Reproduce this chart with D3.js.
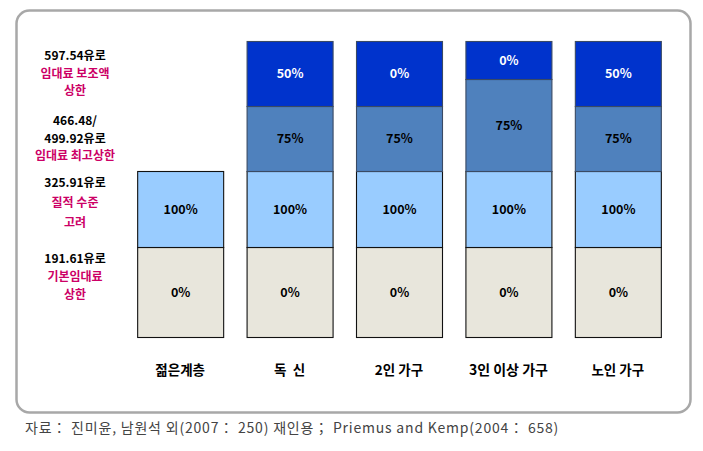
<!DOCTYPE html>
<html>
<head>
<meta charset="utf-8">
<script src="https://cdn.jsdelivr.net/npm/d3@7"></script>
<style>
  html, body { margin: 0; padding: 0; background: #fff; }
  svg { display: block; font-family: "Noto Sans CJK KR", "Noto Sans", sans-serif; }
</style>
</head>
<body>
<svg id="chart" width="703" height="451"></svg>
<script>
// ---------- data ----------
const categories = ["젊은계층", "독  신", "2인 가구", "3인 이상 가구", "노인 가구"];
const rentLevels = [0, 191.61, 325.91, 466.48, 499.92, 597.54];

// segment bounds (euro) and support rate for each category
const baseTop      = [191.61, 191.61, 191.61, 191.61, 191.61];
const baseRate     = ["0%", "0%", "0%", "0%", "0%"];
const qualityTop   = [325.91, 325.91, 325.91, 325.91, 325.91];
const qualityRate  = ["100%", "100%", "100%", "100%", "100%"];
const ceilingTop   = [null, 466.48, 466.48, 499.92, 466.48];
const ceilingRate  = [null, "75%", "75%", "75%", "75%"];
const subsidyTop   = [null, 597.54, 597.54, 597.54, 597.54];
const subsidyRate  = [null, "50%", "0%", "0%", "50%"];

const levelLabelNumbers = [["597.54유로"], ["466.48/", "499.92유로"], ["325.91유로"], ["191.61유로"]];
const levelLabelTexts   = [["임대료 보조액", "상한"], ["임대료 최고상한"], ["질적 수준", "고려"], ["기본임대료", "상한"]];

const sourceNote = "자료： 진미윤, 남원석 외(2007： 250) 재인용； Priemus and Kemp(2004： 658)";

// ---------- layout ----------
const svg = d3.select("#chart");
const colors = { base: "#e8e6dc", quality: "#99ccff", ceiling: "#4f81bd", subsidy: "#0033cc" };

// frame
svg.append("rect")
  .attr("x", 16.5).attr("y", 10.5).attr("width", 674).attr("height", 402)
  .attr("rx", 13).attr("ry", 13)
  .attr("fill", "none").attr("stroke", "#a8a8a8").attr("stroke-width", 2.5);

const x = d3.scaleBand().domain(categories).range([126, 672]).paddingInner(0.21).paddingOuter(0.1);
const y = d3.scaleLinear().domain(rentLevels).range([337, 247, 171, 106, 79, 41]);

// build segments
const segments = [];
categories.forEach((c, i) => {
  segments.push({ cat: c, lo: 0, hi: baseTop[i], rate: baseRate[i], key: "base" });
  segments.push({ cat: c, lo: baseTop[i], hi: qualityTop[i], rate: qualityRate[i], key: "quality" });
  if (ceilingTop[i] != null)
    segments.push({ cat: c, lo: qualityTop[i], hi: ceilingTop[i], rate: ceilingRate[i], key: "ceiling" });
  if (subsidyTop[i] != null)
    segments.push({ cat: c, lo: ceilingTop[i], hi: subsidyTop[i], rate: subsidyRate[i], key: "subsidy" });
});

const bw = 86;
const g = svg.append("g");
g.selectAll("rect.seg").data(segments).join("rect")
  .attr("class", "seg")
  .attr("x", d => x(d.cat) + x.bandwidth() / 2 - bw / 2 + 0.5)
  .attr("y", d => y(d.hi) + 0.5)
  .attr("width", bw)
  .attr("height", d => y(d.lo) - y(d.hi))
  .attr("fill", d => colors[d.key])
  .attr("stroke", d => (d.key === "ceiling" || d.key === "subsidy") ? "#3a4a63" : "#111")
  .attr("stroke-width", 1.1);

g.selectAll("text.rate").data(segments).join("text")
  .attr("class", "rate")
  .attr("x", d => x(d.cat) + x.bandwidth() / 2 + 0.5)
  .attr("y", d => (y(d.lo) + y(d.hi)) / 2)
  .attr("dy", "0.36em")
  .attr("text-anchor", "middle")
  .attr("font-size", 12.5)
  .attr("font-weight", "bold")
  .attr("fill", d => d.key === "subsidy" ? "#ffffff" : "#000")
  .text(d => d.rate);

// category labels
svg.selectAll("text.cat").data(categories).join("text")
  .attr("class", "cat")
  .attr("x", d => x(d) + x.bandwidth() / 2)
  .attr("y", 375)
  .attr("text-anchor", "middle")
  .attr("font-size", (d, i) => i === 3 ? 14 : 13.5)
  .attr("font-weight", "bold")
  .attr("fill", "#000")
  .style("white-space", "pre")
  .text(d => d);

// left level labels
const bandMids = [
  (y(466.48) + y(597.54)) / 2,
  (y(325.91) + y(466.48)) / 2,
  (y(191.61) + y(325.91)) / 2 - 6,
  (y(0) + y(191.61)) / 2 - 15
];
const lineGaps = [17.5, 17.5, 20, 18];
levelLabelNumbers.forEach((nums, i) => {
  const lines = nums.map(t => ({ t, c: "#000" })).concat(levelLabelTexts[i].map(t => ({ t, c: "#cc0066" })));
  const n = lines.length;
  const top = bandMids[i] - (n - 1) * lineGaps[i] / 2;
  svg.append("g").selectAll("text").data(lines).join("text")
    .attr("x", 75)
    .attr("y", (d, k) => top + k * lineGaps[i])
    .attr("dy", "0.36em")
    .attr("text-anchor", "middle")
    .attr("font-size", 12)
    .attr("font-weight", "bold")
    .attr("fill", d => d.c)
    .text(d => d.t);
});

// source note
svg.append("text")
  .attr("x", 25).attr("y", 433)
  .attr("font-size", 14)
  .attr("letter-spacing", 0.8)
  .attr("fill", "#444")
  .text(sourceNote);
</script>
</body>
</html>
